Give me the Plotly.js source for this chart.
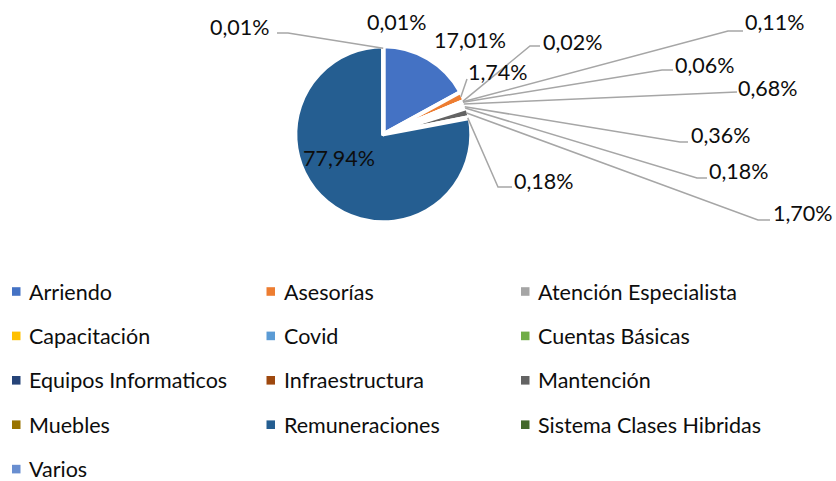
<!DOCTYPE html>
<html>
<head>
<meta charset="utf-8">
<script src="https://cdn.plot.ly/plotly-3.0.1.min.js"></script>
<style>
  html, body { margin: 0; padding: 0; background: #fff; }
  #chart { width: 836px; height: 481px; }
</style>
</head>
<body>
<div id="chart"></div>
<script>
const categories = [
  "Arriendo", "Asesorías", "Atención Especialista", "Capacitación", "Covid",
  "Cuentas Básicas", "Equipos Informaticos", "Infraestructura", "Mantención",
  "Muebles", "Remuneraciones", "Sistema Clases Hibridas", "Varios",
];
const shares = [17.01, 1.74, 0.02, 0.11, 0.06, 0.68, 0.36, 0.18, 1.70, 0.18, 77.94, 0.01, 0.01];
const sliceColors = [
  "#4472C4", "#ED7D31", "#A5A5A5", "#FFC000", "#5B9BD5", "#70AD47", "#264478",
  "#9E480E", "#636363", "#997300", "#255E91", "#43682B", "#698ED0",
];

// Label placement (pixels): text centre and, where a leader line is drawn,
// the bend point and the end next to the text.
const labelPlacement = [
  { at: [470, 40] },
  { at: [498, 72], line: [[467, 79]] },
  { at: [573, 42], line: [[530, 46], [540, 46]] },
  { at: [775, 22], line: [[728, 31], [743, 31]] },
  { at: [705, 65], line: [[662, 70], [673, 70]] },
  { at: [768, 88], line: [[737, 92]] },
  { at: [721, 135], line: [[680, 142], [688, 142]] },
  { at: [739, 171], line: [[697, 178], [707, 178]] },
  { at: [803, 213], line: [[758, 220], [770, 220]] },
  { at: [544, 181], line: [[498, 187], [512, 187]] },
  { at: [339, 158] },
  { at: [240, 27], line: [[288, 33], [277, 33]] },
  { at: [397, 22] },
];

const W = 836;
const H = 481;
const CX = 383.3;
const CY = 134.3;
const R = 88;
const EDGE = 86;

const px = (x) => x / W;
const py = (y) => 1 - y / H;

function pctLabel(value) {
  return value.toFixed(2).replace(".", ",") + "%";
}

// Mid-angle of each slice, clockwise from 12 o'clock, in radians.
function midAngles(values) {
  const total = values.reduce((a, b) => a + b, 0);
  let acc = 0;
  return values.map((v) => {
    const mid = (acc + v / 2) / total;
    acc += v;
    return mid * 2 * Math.PI;
  });
}

const angles = midAngles(shares);
const labelFont = { family: "Lato, 'Open Sans', sans-serif", size: 21.5, color: "#0d0d0d" };

const annotations = [];
const shapes = [];

labelPlacement.forEach((place, i) => {
  annotations.push({
    xref: "paper", yref: "paper",
    x: px(place.at[0]), y: py(place.at[1]),
    xanchor: "center", yanchor: "middle",
    text: pctLabel(shares[i]),
    showarrow: false,
    font: labelFont,
  });
  if (place.line) {
    const sx = CX + EDGE * Math.sin(angles[i]);
    const sy = CY - EDGE * Math.cos(angles[i]);
    const pts = [[sx, sy]].concat(place.line);
    const path = pts
      .map((p, k) => `${k ? "L" : "M"}${px(p[0])},${py(p[1])}`)
      .join(" ");
    shapes.push({
      type: "path", xref: "paper", yref: "paper", path,
      line: { color: "#A6A6A6", width: 1.5 },
    });
  }
});

// Legend: three columns, one entry per category.
const LEGEND_X = [12, 266.5, 521];
const LEGEND_Y0 = 291.5;
const LEGEND_STEP = 44.4;
categories.forEach((name, i) => {
  const col = i % 3;
  const row = Math.floor(i / 3);
  const x = LEGEND_X[col];
  const y = LEGEND_Y0 + row * LEGEND_STEP;
  shapes.push({
    type: "rect", xref: "paper", yref: "paper",
    x0: px(x), x1: px(x + 8.5), y0: py(y - 4.3), y1: py(y + 4.3),
    fillcolor: sliceColors[i], line: { width: 0 },
  });
  annotations.push({
    xref: "paper", yref: "paper",
    x: px(x + 15), y: py(y),
    xanchor: "left", yanchor: "middle",
    text: name,
    showarrow: false,
    font: labelFont,
  });
});

const trace = {
  type: "pie",
  labels: categories,
  values: shares,
  sort: false,
  direction: "clockwise",
  rotation: 0,
  textinfo: "none",
  hoverinfo: "label+percent",
  marker: { colors: sliceColors, line: { color: "#ffffff", width: 4 } },
  domain: {
    x: [px(CX - R), px(CX + R)],
    y: [py(CY + R), py(CY - R)],
  },
  showlegend: false,
};

const layout = {
  width: W,
  height: H,
  margin: { l: 0, r: 0, t: 0, b: 0 },
  paper_bgcolor: "#ffffff",
  showlegend: false,
  annotations,
  shapes,
};

Plotly.newPlot("chart", [trace], layout, { displayModeBar: false, staticPlot: true });
</script>
</body>
</html>
